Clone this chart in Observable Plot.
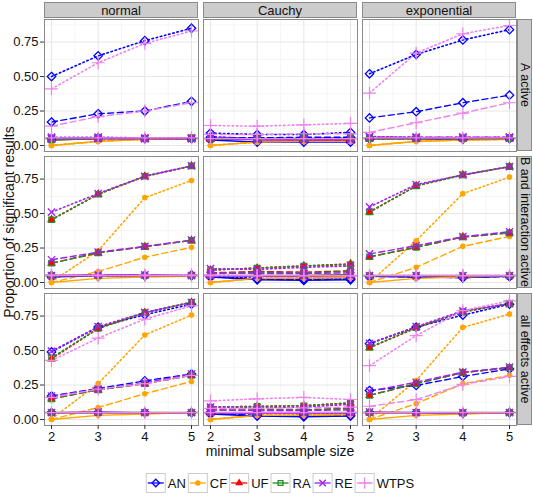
<!DOCTYPE html>
<html><head><meta charset="utf-8">
<script src="https://cdn.jsdelivr.net/npm/d3@7"></script>
<script src="https://cdn.jsdelivr.net/npm/@observablehq/plot@0.6"></script>
<style>
body{margin:0;background:#fff;font-family:"Liberation Sans",Arial,Helvetica,sans-serif;}
#chart svg{display:block}
</style></head><body><div id="chart"></div><script>
const distributions = ["normal","Cauchy","exponential"];
const effects = ["A active","B and interaction active","all effects active"];
const sizes = [2,3,4,5];
const yTicks = [0,0.25,0.5,0.75];
const methods = ["AN","CF","UF","RA","RE","WTPS"];
const methodColors = ["#0000FF","#FFA500","#FF0000","#228B22","#A020F0","#EE82EE"];
const lineTypes = ["large","medium","null"];

const normal_A = [
 ["AN","large",0.50,0.65,0.76,0.85],["AN","medium",0.17,0.23,0.25,0.32],["AN","null",0.05,0.055,0.05,0.05],
 ["CF","large",0.00,0.03,0.045,0.05],["CF","medium",0.00,0.03,0.045,0.05],["CF","null",0.00,0.03,0.045,0.05],
 ["UF","large",0.05,0.055,0.05,0.055],["UF","medium",0.045,0.05,0.05,0.05],["UF","null",0.04,0.05,0.05,0.05],
 ["RA","large",0.05,0.055,0.05,0.055],["RA","medium",0.045,0.05,0.05,0.05],["RA","null",0.04,0.05,0.05,0.05],
 ["RE","large",0.06,0.06,0.055,0.055],["RE","medium",0.055,0.055,0.05,0.05],["RE","null",0.05,0.05,0.05,0.05],
 ["WTPS","large",0.41,0.60,0.74,0.83],["WTPS","medium",0.14,0.21,0.25,0.31],["WTPS","null",0.055,0.055,0.055,0.055]
];
const cauchy_A = [
 ["AN","large",0.09,0.08,0.08,0.095],["AN","medium",0.06,0.055,0.06,0.06],["AN","null",0.04,0.025,0.025,0.025],
 ["CF","large",0.00,0.025,0.03,0.03],["CF","medium",0.00,0.025,0.03,0.03],["CF","null",0.00,0.025,0.03,0.03],
 ["UF","large",0.05,0.05,0.05,0.055],["UF","medium",0.05,0.045,0.05,0.05],["UF","null",0.045,0.045,0.045,0.05],
 ["RA","large",0.05,0.05,0.05,0.055],["RA","medium",0.05,0.045,0.05,0.05],["RA","null",0.045,0.045,0.045,0.05],
 ["RE","large",0.065,0.045,0.04,0.04],["RE","medium",0.06,0.045,0.04,0.04],["RE","null",0.055,0.04,0.04,0.04],
 ["WTPS","large",0.145,0.14,0.15,0.16],["WTPS","medium",0.08,0.08,0.085,0.085],["WTPS","null",0.05,0.05,0.05,0.05]
];
const exponential_A = [
 ["AN","large",0.52,0.66,0.765,0.84],["AN","medium",0.20,0.245,0.31,0.365],["AN","null",0.05,0.05,0.045,0.05],
 ["CF","large",0.00,0.03,0.04,0.045],["CF","medium",0.00,0.03,0.04,0.045],["CF","null",0.00,0.03,0.04,0.045],
 ["UF","large",0.05,0.055,0.055,0.055],["UF","medium",0.05,0.05,0.05,0.05],["UF","null",0.05,0.05,0.05,0.05],
 ["RA","large",0.05,0.055,0.055,0.055],["RA","medium",0.05,0.05,0.05,0.05],["RA","null",0.05,0.05,0.05,0.05],
 ["RE","large",0.065,0.06,0.06,0.06],["RE","medium",0.06,0.06,0.06,0.06],["RE","null",0.06,0.055,0.055,0.055],
 ["WTPS","large",0.38,0.67,0.81,0.87],["WTPS","medium",0.095,0.165,0.235,0.31],["WTPS","null",0.055,0.055,0.055,0.055]
];
const normal_B = [
 ["AN","large",0.05,0.05,0.05,0.055],["AN","medium",0.045,0.05,0.05,0.05],["AN","null",0.04,0.05,0.05,0.05],
 ["CF","large",0.005,0.23,0.615,0.74],["CF","medium",0.00,0.08,0.183,0.255],["CF","null",0.00,0.03,0.04,0.045],
 ["UF","large",0.455,0.64,0.77,0.845],["UF","medium",0.14,0.215,0.26,0.305],["UF","null",0.05,0.05,0.05,0.05],
 ["RA","large",0.455,0.64,0.77,0.845],["RA","medium",0.14,0.215,0.26,0.305],["RA","null",0.05,0.05,0.05,0.05],
 ["RE","large",0.51,0.645,0.77,0.846],["RE","medium",0.165,0.22,0.262,0.308],["RE","null",0.05,0.055,0.055,0.05],
 ["WTPS","large",0.055,0.055,0.055,0.055],["WTPS","medium",0.05,0.05,0.05,0.05],["WTPS","null",0.05,0.05,0.05,0.05]
];
const cauchy_B = [
 ["AN","large",0.045,0.03,0.025,0.03],["AN","medium",0.04,0.025,0.02,0.025],["AN","null",0.04,0.02,0.015,0.02],
 ["CF","large",0.00,0.03,0.035,0.04],["CF","medium",0.00,0.03,0.035,0.035],["CF","null",0.00,0.03,0.03,0.035],
 ["UF","large",0.09,0.105,0.12,0.135],["UF","medium",0.07,0.08,0.075,0.085],["UF","null",0.05,0.05,0.05,0.055],
 ["RA","large",0.09,0.105,0.12,0.13],["RA","medium",0.065,0.075,0.07,0.08],["RA","null",0.05,0.05,0.05,0.055],
 ["RE","large",0.10,0.095,0.11,0.12],["RE","medium",0.07,0.065,0.065,0.07],["RE","null",0.05,0.045,0.045,0.05],
 ["WTPS","large",0.055,0.05,0.05,0.05],["WTPS","medium",0.05,0.05,0.05,0.05],["WTPS","null",0.05,0.05,0.05,0.05]
];
const exponential_B = [
 ["AN","large",0.045,0.045,0.04,0.045],["AN","medium",0.045,0.04,0.035,0.045],["AN","null",0.045,0.04,0.035,0.045],
 ["CF","large",0.00,0.303,0.644,0.764],["CF","medium",0.00,0.11,0.262,0.334],["CF","null",0.00,0.03,0.04,0.05],
 ["UF","large",0.51,0.70,0.78,0.84],["UF","medium",0.185,0.255,0.33,0.36],["UF","null",0.05,0.05,0.05,0.05],
 ["RA","large",0.512,0.70,0.78,0.84],["RA","medium",0.187,0.255,0.33,0.358],["RA","null",0.05,0.05,0.05,0.05],
 ["RE","large",0.548,0.71,0.78,0.84],["RE","medium",0.207,0.267,0.332,0.368],["RE","null",0.05,0.05,0.05,0.05],
 ["WTPS","large",0.05,0.05,0.05,0.05],["WTPS","medium",0.05,0.05,0.05,0.05],["WTPS","null",0.05,0.05,0.05,0.05]
];
const normal_all = [
 ["AN","large",0.49,0.67,0.76,0.836],["AN","medium",0.17,0.225,0.28,0.33],["AN","null",0.05,0.05,0.05,0.05],
 ["CF","large",0.005,0.26,0.613,0.757],["CF","medium",0.00,0.087,0.187,0.276],["CF","null",0.00,0.03,0.04,0.05],
 ["UF","large",0.44,0.66,0.775,0.85],["UF","medium",0.15,0.215,0.26,0.32],["UF","null",0.05,0.05,0.05,0.05],
 ["RA","large",0.447,0.66,0.775,0.85],["RA","medium",0.15,0.215,0.26,0.32],["RA","null",0.05,0.05,0.05,0.05],
 ["RE","large",0.495,0.673,0.776,0.848],["RE","medium",0.17,0.22,0.265,0.33],["RE","null",0.05,0.055,0.05,0.05],
 ["WTPS","large",0.428,0.59,0.728,0.824],["WTPS","medium",0.16,0.22,0.26,0.32],["WTPS","null",0.05,0.05,0.05,0.05]
];
const cauchy_all = [
 ["AN","large",0.05,0.045,0.04,0.045],["AN","medium",0.045,0.03,0.025,0.03],["AN","null",0.04,0.025,0.02,0.025],
 ["CF","large",0.00,0.03,0.03,0.035],["CF","medium",0.00,0.03,0.03,0.035],["CF","null",0.00,0.03,0.03,0.035],
 ["UF","large",0.09,0.095,0.10,0.12],["UF","medium",0.07,0.07,0.07,0.08],["UF","null",0.05,0.05,0.05,0.05],
 ["RA","large",0.09,0.095,0.10,0.12],["RA","medium",0.07,0.07,0.07,0.08],["RA","null",0.05,0.05,0.05,0.05],
 ["RE","large",0.09,0.085,0.09,0.11],["RE","medium",0.07,0.065,0.065,0.07],["RE","null",0.05,0.045,0.045,0.05],
 ["WTPS","large",0.135,0.15,0.16,0.145],["WTPS","medium",0.08,0.08,0.085,0.09],["WTPS","null",0.05,0.05,0.05,0.05]
];
const exponential_all = [
 ["AN","large",0.55,0.67,0.757,0.836],["AN","medium",0.21,0.247,0.312,0.367],["AN","null",0.05,0.05,0.045,0.05],
 ["CF","large",0.00,0.283,0.668,0.764],["CF","medium",0.00,0.115,0.26,0.32],["CF","null",0.00,0.03,0.04,0.05],
 ["UF","large",0.52,0.665,0.78,0.84],["UF","medium",0.175,0.26,0.34,0.375],["UF","null",0.05,0.05,0.05,0.05],
 ["RA","large",0.523,0.665,0.78,0.84],["RA","medium",0.175,0.26,0.34,0.375],["RA","null",0.05,0.05,0.05,0.05],
 ["RE","large",0.552,0.673,0.788,0.84],["RE","medium",0.205,0.27,0.343,0.379],["RE","null",0.055,0.05,0.05,0.05],
 ["WTPS","large",0.39,0.608,0.79,0.86],["WTPS","medium",0.096,0.144,0.254,0.312],["WTPS","null",0.05,0.05,0.05,0.05]
];

const panels = [
 ["normal","A active",normal_A],["Cauchy","A active",cauchy_A],["exponential","A active",exponential_A],
 ["normal","B and interaction active",normal_B],["Cauchy","B and interaction active",cauchy_B],["exponential","B and interaction active",exponential_B],
 ["normal","all effects active",normal_all],["Cauchy","all effects active",cauchy_all],["exponential","all effects active",exponential_all]
];
const rows = [];
for (const [dist, effect, table] of panels)
  for (const [method, lt, ...vals] of table)
    vals.forEach((v, i) => rows.push({dist, effect, method, lt, size: sizes[i], value: v}));

const dash = {large: "1.5,2.8", medium: "6,3.5", null: null};
const widths = {large: 1.6, medium: 1.4, null: 1.3};
const symbolSpec = {
  AN: {symbol: "diamond2", fill: "none", stroke: "#0000FF", r: 3.8, strokeWidth: 1.3},
  CF: {symbol: "circle", fill: "#FFA500", stroke: "none", r: 2.8},
  UF: {symbol: "triangle", fill: "#FF0000", stroke: "none", r: 3.3},
  RA: {symbol: "square2", fill: "none", stroke: "#228B22", r: 3.4, strokeWidth: 1.3},
  RE: {symbol: "times", fill: "none", stroke: "#A020F0", r: 3.4, strokeWidth: 1.3},
  WTPS: {symbol: "plus", fill: "none", stroke: "#EE82EE", r: 4.2, strokeWidth: 1.2}
};

const W = 533, H = 465;
const FONT = "Liberation Sans, Arial, Helvetica, sans-serif";
const chart = Plot.plot({
  width: W, height: H,
  marginLeft: 43, marginRight: 16, marginTop: 18, marginBottom: 39,
  style: {fontFamily: FONT, fontSize: "12px", color: "#1a1a1a", background: "white", overflow: "visible"},
  fx: {domain: distributions, paddingInner: 0.031, paddingOuter: 0, axis: null},
  fy: {domain: effects, paddingInner: 0.033, paddingOuter: 0, axis: null},
  x: {domain: [1.85, 5.15]},
  y: {domain: [-0.0435, 0.9135]},
  color: {domain: methods, range: methodColors},
  marks: [
    Plot.gridX([2.5, 3.5, 4.5], {stroke: "#f3f3f3", strokeOpacity: 1, strokeWidth: 0.8}),
    Plot.gridY([0.125, 0.375, 0.625, 0.875], {stroke: "#f3f3f3", strokeOpacity: 1, strokeWidth: 0.8}),
    Plot.gridX(sizes, {stroke: "#e6e6e6", strokeOpacity: 1, strokeWidth: 1}),
    Plot.gridY(yTicks, {stroke: "#e6e6e6", strokeOpacity: 1, strokeWidth: 1}),
    Plot.ruleY([0.05], {stroke: "#9a9a9a", strokeWidth: 2, strokeOpacity: 0.75}),
    ...lineTypes.map(lt => Plot.line(rows.filter(d => d.lt === lt), {
      x: "size", y: "value", z: "method", stroke: "method", fx: "dist", fy: "effect",
      strokeWidth: widths[lt], strokeDasharray: dash[lt]
    })),
    ...methods.map(m => Plot.dot(rows.filter(d => d.method === m), {
      x: "size", y: "value", fx: "dist", fy: "effect", ...symbolSpec[m]
    })),
    Plot.frame({stroke: "#8a8a8a", strokeWidth: 1}),
    Plot.axisX({ticks: sizes, tickFormat: d => String(d), label: null, tickSize: 4, tickPadding: 2, fontSize: 13, stroke: "#333", fill: "#111"}),
    Plot.axisY({ticks: yTicks, tickFormat: d => d.toFixed(2), label: null, tickSize: 4, tickPadding: 2, fontSize: 13, stroke: "#333", fill: "#111"})
  ]
});
document.getElementById("chart").appendChild(chart);

// facet strips, drawn from the facet scales
const svg = d3.select(chart);
const fxs = chart.scale("fx"), fys = chart.scale("fy");
const stripG = svg.append("g");
distributions.forEach(d => {
  const x0 = fxs.apply(d), bw = fxs.bandwidth;
  stripG.append("rect").attr("x", x0 + 0.5).attr("y", 2.5).attr("width", bw - 1).attr("height", 15)
    .attr("fill", "#cccccc").attr("stroke", "#8a8a8a");
  stripG.append("text").attr("x", x0 + bw / 2).attr("y", 14.5).attr("text-anchor", "middle")
    .attr("font-family", FONT).attr("font-size", 13).attr("fill", "#111").text(d);
});
effects.forEach(e => {
  const y0 = fys.apply(e), bh = fys.bandwidth;
  const sx = W - 15.5;
  stripG.append("rect").attr("x", sx).attr("y", y0 + 0.5).attr("width", 14).attr("height", bh - 1)
    .attr("fill", "#cccccc").attr("stroke", "#8a8a8a");
  stripG.append("text").attr("transform", `translate(${sx + 3},${y0 + bh / 2}) rotate(90)`)
    .attr("text-anchor", "middle").attr("font-family", FONT).attr("font-size", 12.5).attr("fill", "#111").text(e);
});
// axis titles
const y0 = fys.apply(effects[0]), y2 = fys.apply(effects[2]) + fys.bandwidth;
svg.append("text").attr("transform", `translate(14,${(y0 + y2) / 2}) rotate(-90)`)
  .attr("text-anchor", "middle").attr("font-family", FONT).attr("font-size", 14).attr("fill", "#111")
  .text("Proportion of significant results");
const xl = fxs.apply(distributions[0]), xr = fxs.apply(distributions[2]) + fxs.bandwidth;
svg.append("text").attr("x", (xl + xr) / 2).attr("y", 456).attr("text-anchor", "middle")
  .attr("font-family", FONT).attr("font-size", 14).attr("fill", "#111").text("minimal subsample size");

// legend
const leg = d3.select("#chart").append("svg").attr("width", W).attr("height", 34).style("display", "block");
const lg = leg.append("g");
let cx = 0;
const symGen = {AN: d3.symbolDiamond2, CF: d3.symbolCircle, UF: d3.symbolTriangle, RA: d3.symbolSquare2, RE: d3.symbolTimes, WTPS: d3.symbolPlus};
methods.forEach((m, i) => {
  const g = lg.append("g").attr("transform", `translate(${cx},0)`);
  g.append("rect").attr("x", 0.5).attr("y", 8.5).attr("width", 19).attr("height", 19).attr("fill", "white").attr("stroke", "#cccccc");
  g.append("line").attr("x1", 2).attr("x2", 18).attr("y1", 18).attr("y2", 18).attr("stroke", methodColors[i]).attr("stroke-width", 1.3);
  const sp = symbolSpec[m];
  g.append("path").attr("transform", "translate(10,18)")
    .attr("d", d3.symbol(symGen[m], Math.PI * sp.r * sp.r * (m === "CF" ? 1 : 0.8))())
    .attr("fill", sp.fill).attr("stroke", sp.stroke).attr("stroke-width", sp.strokeWidth || 1);
  const t = g.append("text").attr("x", 22).attr("y", 23).attr("font-family", FONT).attr("font-size", 13).attr("fill", "#111").text(m);
  const tw = t.node().getComputedTextLength();
  cx += 22 + tw + 2;
});
const total = cx - 2;
lg.attr("transform", `translate(${(xl + xr) / 2 - total / 2},0)`);
</script></body></html>
